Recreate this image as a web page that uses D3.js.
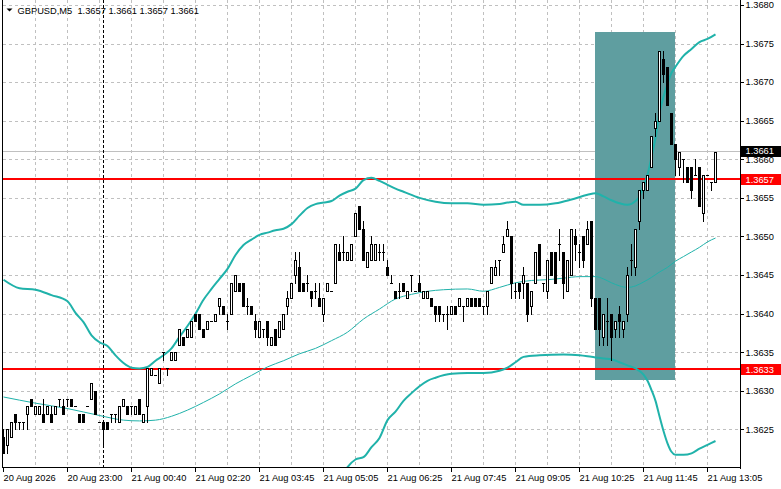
<!DOCTYPE html>
<html>
<head>
<meta charset="utf-8">
<script src="https://cdn.jsdelivr.net/npm/d3@7"></script>
<style>
  html, body { margin: 0; padding: 0; background: #fff; }
  svg { display: block; font-family: "Liberation Sans", Arial, sans-serif; }
</style>
</head>
<body>
<svg id="chart" width="781" height="489"></svg>
<script>
// GBPUSD M5 bars, one entry per bar (oldest first)
const open = [1.3624,1.3623,1.3624,1.3627,1.3626,1.3626,1.3627,1.3629,1.3627,1.3627,
  1.3627,1.3627,1.3627,1.3627,1.3629,1.3628,1.3629,1.3629,1.3628,1.3627,
  1.3627,1.3628,1.3629,1.3630,1.3626,1.3626,1.3626,1.3627,1.3627,1.3626,
  1.3628,1.3628,1.3628,1.3627,1.3629,1.3626,1.3628,1.3632,1.3632,1.3631,
  1.3635,1.3633,1.3634,1.3634,1.3636,1.3637,1.3637,1.3637,1.3640,1.3640,
  1.3638,1.3638,1.3639,1.3639,1.3641,1.3641,1.3639,1.3640,1.3643,1.3644,
  1.3644,1.3641,1.3641,1.3639,1.3637,1.3638,1.3639,1.3636,1.3638,1.3637,
  1.3638,1.3641,1.3642,1.3645,1.3646,1.3644,1.3644,1.3643,1.3643,1.3642,
  1.3640,1.3643,1.3643,1.3644,1.3648,1.3648,1.3647,1.3647,1.3650,1.3654,
  1.3651,1.3646,1.3647,1.3647,1.3648,1.3648,1.3646,1.3644,1.3643,1.3643,
  1.3644,1.3642,1.3645,1.3643,1.3644,1.3642,1.3642,1.3642,1.3641,1.3641,
  1.3640,1.3640,1.3640,1.3641,1.3641,1.3641,1.3641,1.3642,1.3642,1.3642,
  1.3641,1.3641,1.3644,1.3645,1.3647,1.3648,1.3650,1.3650,1.3643,1.3644,
  1.3644,1.3644,1.3641,1.3644,1.3649,1.3644,1.3643,1.3648,1.3648,1.3649,
  1.3648,1.3643,1.3645,1.3650,1.3648,1.3650,1.3649,1.3652,1.3642,1.3642,
  1.3637,1.3639,1.3640,1.3638,1.3640,1.3638,1.3640,1.3647,1.3646,1.3652,
  1.3656,1.3656,1.3659,1.3664,1.3665,1.3673,1.3672,1.3666,1.3662,1.3659,
  1.3660,1.3659,1.3659,1.3658,1.3659,1.3653,1.3658,1.3657,1.3657];
const high = [1.3625,1.3625,1.3626,1.3627,1.3626,1.3626,1.3628,1.3629,1.3628,1.3628,
  1.3629,1.3628,1.3628,1.3628,1.3629,1.3629,1.3629,1.3629,1.3628,1.3627,
  1.3627,1.3628,1.3631,1.3630,1.3626,1.3626,1.3626,1.3627,1.3627,1.3628,
  1.3629,1.3628,1.3628,1.3628,1.3629,1.3627,1.3633,1.3633,1.3632,1.3633,
  1.3635,1.3633,1.3635,1.3635,1.3638,1.3637,1.3638,1.3639,1.3640,1.3640,
  1.3638,1.3639,1.3639,1.3640,1.3642,1.3641,1.3640,1.3644,1.3645,1.3644,
  1.3644,1.3642,1.3641,1.3640,1.3639,1.3638,1.3639,1.3637,1.3638,1.3639,
  1.3640,1.3643,1.3644,1.3648,1.3648,1.3644,1.3645,1.3643,1.3644,1.3644,
  1.3642,1.3644,1.3643,1.3649,1.3649,1.3650,1.3648,1.3649,1.3653,1.3654,
  1.3652,1.3648,1.3650,1.3649,1.3649,1.3649,1.3647,1.3645,1.3643,1.3644,
  1.3644,1.3643,1.3645,1.3643,1.3645,1.3643,1.3643,1.3642,1.3641,1.3641,
  1.3640,1.3641,1.3641,1.3641,1.3642,1.3641,1.3642,1.3642,1.3642,1.3642,
  1.3641,1.3643,1.3646,1.3647,1.3647,1.3650,1.3652,1.3650,1.3644,1.3644,
  1.3646,1.3644,1.3643,1.3648,1.3649,1.3644,1.3647,1.3648,1.3648,1.3651,
  1.3648,1.3647,1.3651,1.3651,1.3649,1.3650,1.3652,1.3652,1.3642,1.3642,
  1.3640,1.3642,1.3640,1.3639,1.3641,1.3639,1.3646,1.3649,1.3651,1.3656,
  1.3657,1.3658,1.3663,1.3666,1.3674,1.3674,1.3672,1.3666,1.3662,1.3661,
  1.3660,1.3659,1.3659,1.3660,1.3659,1.3658,1.3658,1.3657,1.3661];
const low = [1.3622,1.3622,1.3624,1.3625,1.3625,1.3625,1.3625,1.3628,1.3627,1.3627,
  1.3626,1.3627,1.3626,1.3627,1.3628,1.3627,1.3628,1.3628,1.3628,1.3626,
  1.3626,1.3628,1.3629,1.3627,1.3626,1.3623,1.3625,1.3626,1.3626,1.3626,
  1.3628,1.3627,1.3627,1.3627,1.3627,1.3626,1.3626,1.3632,1.3632,1.3631,
  1.3634,1.3632,1.3634,1.3634,1.3636,1.3636,1.3637,1.3637,1.3639,1.3638,
  1.3637,1.3638,1.3639,1.3639,1.3640,1.3640,1.3638,1.3640,1.3643,1.3643,
  1.3641,1.3640,1.3640,1.3637,1.3637,1.3637,1.3636,1.3636,1.3636,1.3637,
  1.3638,1.3640,1.3642,1.3644,1.3643,1.3643,1.3643,1.3641,1.3642,1.3641,
  1.3639,1.3643,1.3643,1.3644,1.3647,1.3647,1.3647,1.3647,1.3650,1.3651,
  1.3647,1.3646,1.3647,1.3647,1.3647,1.3647,1.3645,1.3644,1.3642,1.3642,
  1.3643,1.3642,1.3643,1.3643,1.3643,1.3642,1.3642,1.3641,1.3639,1.3639,
  1.3639,1.3638,1.3640,1.3640,1.3641,1.3639,1.3641,1.3641,1.3641,1.3641,
  1.3640,1.3640,1.3644,1.3645,1.3645,1.3648,1.3650,1.3642,1.3642,1.3642,
  1.3642,1.3639,1.3640,1.3644,1.3645,1.3643,1.3642,1.3645,1.3644,1.3647,
  1.3642,1.3643,1.3645,1.3647,1.3646,1.3646,1.3649,1.3641,1.3638,1.3636,
  1.3636,1.3636,1.3634,1.3637,1.3637,1.3637,1.3639,1.3645,1.3645,1.3651,
  1.3655,1.3656,1.3659,1.3663,1.3665,1.3670,1.3667,1.3662,1.3658,1.3658,
  1.3657,1.3657,1.3655,1.3658,1.3654,1.3652,1.3658,1.3656,1.3657];
const close = [1.3622,1.3625,1.3626,1.3626,1.3626,1.3626,1.3628,1.3628,1.3628,1.3628,
  1.3626,1.3628,1.3626,1.3628,1.3629,1.3627,1.3629,1.3628,1.3628,1.3626,
  1.3626,1.3628,1.3631,1.3627,1.3626,1.3625,1.3625,1.3627,1.3627,1.3628,
  1.3629,1.3627,1.3628,1.3628,1.3627,1.3627,1.3633,1.3633,1.3632,1.3633,
  1.3635,1.3633,1.3635,1.3635,1.3638,1.3636,1.3638,1.3639,1.3639,1.3638,
  1.3637,1.3639,1.3639,1.3640,1.3642,1.3640,1.3639,1.3644,1.3645,1.3643,
  1.3641,1.3641,1.3640,1.3638,1.3639,1.3638,1.3637,1.3637,1.3636,1.3639,
  1.3640,1.3642,1.3644,1.3647,1.3643,1.3643,1.3644,1.3642,1.3643,1.3641,
  1.3642,1.3644,1.3643,1.3649,1.3647,1.3648,1.3648,1.3649,1.3653,1.3651,
  1.3647,1.3648,1.3649,1.3649,1.3648,1.3648,1.3645,1.3644,1.3642,1.3643,
  1.3643,1.3643,1.3645,1.3643,1.3643,1.3643,1.3643,1.3641,1.3640,1.3640,
  1.3640,1.3640,1.3641,1.3640,1.3642,1.3641,1.3642,1.3641,1.3641,1.3641,
  1.3641,1.3643,1.3646,1.3646,1.3647,1.3649,1.3651,1.3644,1.3643,1.3643,
  1.3645,1.3640,1.3643,1.3648,1.3645,1.3644,1.3647,1.3645,1.3644,1.3649,
  1.3644,1.3647,1.3651,1.3649,1.3648,1.3647,1.3651,1.3642,1.3638,1.3638,
  1.3640,1.3639,1.3637,1.3639,1.3639,1.3639,1.3645,1.3647,1.3651,1.3656,
  1.3657,1.3658,1.3663,1.3665,1.3674,1.3671,1.3667,1.3662,1.3660,1.3661,
  1.3660,1.3657,1.3656,1.3658,1.3654,1.3658,1.3658,1.3657,1.3661];

// Bollinger bands (bar index -> price)
const upperBar = [0,4,8,12,16,18,20,22,24,26,28,30,32,34,36,38,40,42,44,46,48,50,52,54,56,58,60,62,64,66,68,70,72,74,76,78,80,82,84,86,88,90,92,94,96,98,100,104,108,112,116,120,124,126,128,130,134,138,142,146,148,150,152,154,156,158,159,160,161,162,163,164,165,166,167,168,170,172,174,176,178];
const upperBand = [1.36444,1.36433,1.36431,1.36424,1.36416,1.36401,1.36389,1.36372,1.36363,1.36358,1.36346,1.36336,1.36330,1.36329,1.36331,1.36339,1.36346,1.36355,1.36370,1.36384,1.36400,1.36418,1.36432,1.36445,1.36458,1.36476,1.36489,1.36496,1.36502,1.36505,1.36508,1.36510,1.36516,1.36527,1.36537,1.36542,1.36544,1.36546,1.36553,1.36558,1.36562,1.36573,1.36576,1.36572,1.36567,1.36562,1.36558,1.36550,1.36545,1.36543,1.36543,1.36541,1.36542,1.36544,1.36545,1.36541,1.36541,1.36543,1.36548,1.36554,1.36556,1.36552,1.36547,1.36543,1.36541,1.36546,1.36552,1.36565,1.36580,1.36603,1.36628,1.36660,1.36681,1.36698,1.36712,1.36720,1.36734,1.36743,1.36752,1.36756,1.36762];
const midBar = [0,8,16,24,30,34,38,42,46,50,54,58,62,66,70,74,78,82,86,90,94,98,102,106,110,116,120,124,128,132,136,140,144,148,150,152,154,156,158,160,162,164,166,168,170,172,174,176,178];
const midBand = [1.36292,1.36284,1.36277,1.36268,1.36262,1.36261,1.36262,1.36267,1.36275,1.36285,1.36296,1.36309,1.36320,1.36331,1.36339,1.36348,1.36355,1.36365,1.36376,1.36393,1.36406,1.36419,1.36425,1.36429,1.36431,1.36432,1.36429,1.36434,1.36440,1.36443,1.36444,1.36446,1.36448,1.36448,1.36445,1.36440,1.36436,1.36434,1.36436,1.36441,1.36447,1.36454,1.36460,1.36468,1.36474,1.36480,1.36486,1.36493,1.36498];
const lowerBar = [84,86,88,90,92,94,96,98,100,102,104,106,108,112,116,120,124,126,128,130,134,140,144,147,150,152,154,156,158,160,161,162,163,164,165,166,167,168,170,172,174,176,178];
const lowerBand = [1.36184,1.36201,1.36211,1.36214,1.36227,1.36239,1.36262,1.36273,1.36287,1.36297,1.36306,1.36313,1.36317,1.36322,1.36323,1.36323,1.36326,1.36330,1.36337,1.36344,1.36346,1.36347,1.36346,1.36344,1.36342,1.36341,1.36337,1.36333,1.36329,1.36321,1.36313,1.36301,1.36287,1.36267,1.36248,1.36232,1.36221,1.36217,1.36217,1.36219,1.36225,1.36230,1.36235];

// axis labels
const timeLabels = ["20 Aug 2026","20 Aug 23:00","21 Aug 00:40","21 Aug 02:20","21 Aug 03:45","21 Aug 05:05",
  "21 Aug 06:25","21 Aug 07:45","21 Aug 09:05","21 Aug 10:25","21 Aug 11:45","21 Aug 13:05"];
const labelEvery = 16;   // bars between time labels
const gridEvery = 8;     // bars between vertical grid lines
const priceTicks = [1.3680,1.3675,1.3670,1.3665,1.3660,1.3655,1.3650,1.3645,1.3640,1.3635,1.3630,1.3625];

// objects on the chart
const levels = [1.36574, 1.36328];   // red horizontal lines
const bidPrice = 1.36611;
const separatorBar = 25;             // day separator
const zoneBars = [148, 168];
const zonePrices = [1.36765, 1.36314];
const title = "GBPUSD,M5  1.3657 1.3661 1.3657 1.3661";

const W = 781, H = 489;
const plot = {left: 3, right: 740, top: 0, bottom: 468};
const teal = "#20b2aa", gridCol = "#c0c0c0";
const fontSize = 9.3;

const svg = d3.select("#chart");
const nBars = open.length;

var x = d3.scaleLinear().domain([0, nBars - 1]).range([3.5, 3.5 + 4 * (nBars - 1)]);
var y = d3.scaleLinear().domain([1.3625, 1.3680]).range([429.4, 5]);
const px = v => Math.round(v) + 0.5;   // snap to pixel centre

svg.append("defs").append("clipPath").attr("id", "plotClip")
  .append("rect")
    .attr("x", plot.left).attr("y", plot.top)
    .attr("width", plot.right - plot.left).attr("height", plot.bottom - plot.top);

var g = svg.append("g").attr("clip-path", "url(#plotClip)");

  // grid
var grid = g.append("g").attr("shape-rendering", "crispEdges")
    .attr("stroke", gridCol).attr("stroke-dasharray", "3,3");
grid.selectAll("line.h").data(priceTicks).join("line")
    .attr("class", "h")
    .attr("x1", plot.left).attr("x2", plot.right)
    .attr("y1", d => px(y(d))).attr("y2", d => px(y(d)));
grid.selectAll("line.v").data(d3.range(gridEvery, nBars, gridEvery)).join("line")
    .attr("class", "v")
    .attr("x1", d => x(d)).attr("x2", d => x(d))
    .attr("y1", plot.top).attr("y2", plot.bottom);

  // bid line
g.append("line")
    .attr("shape-rendering", "crispEdges")
    .attr("x1", plot.left).attr("x2", plot.right)
    .attr("y1", px(y(bidPrice))).attr("y2", px(y(bidPrice)))
    .attr("stroke", gridCol);

  // day separator
g.append("line")
    .attr("shape-rendering", "crispEdges")
    .attr("x1", x(separatorBar)).attr("x2", x(separatorBar))
    .attr("y1", plot.top).attr("y2", plot.bottom)
    .attr("stroke", "#000").attr("stroke-dasharray", "3,2");

  // shaded zone
g.append("rect")
    .attr("shape-rendering", "crispEdges")
    .attr("x", x(zoneBars[0]) - 0.5)
    .attr("width", x(zoneBars[1]) - x(zoneBars[0]))
    .attr("y", Math.round(y(zonePrices[0])))
    .attr("height", Math.round(y(zonePrices[1])) - Math.round(y(zonePrices[0])))
    .attr("fill", "#5f9ea0");

  // red levels
g.selectAll("line.level").data(levels).join("line")
    .attr("class", "level")
    .attr("shape-rendering", "crispEdges")
    .attr("x1", plot.left).attr("x2", plot.right)
    .attr("y1", d => Math.round(y(d))).attr("y2", d => Math.round(y(d)))
    .attr("stroke", "#ff0000").attr("stroke-width", 2);

  // Bollinger bands
function bandLine(bars, vals, width) {
  var line = d3.line()
      .x(d => x(d[0]))
      .y(d => y(d[1]))
      .curve(d3.curveMonotoneX);
  g.append("path")
      .datum(d3.zip(bars, vals))
      .attr("d", line)
      .attr("fill", "none")
      .attr("stroke", teal)
      .attr("stroke-width", width);
}
bandLine(upperBar, upperBand, 2);
bandLine(midBar, midBand, 1);
bandLine(lowerBar, lowerBand, 2);

  // candles
var bars = d3.range(nBars).map(i => ({i: i, o: open[i], h: high[i], l: low[i], c: close[i]}));
var cg = g.append("g").attr("shape-rendering", "crispEdges");
cg.selectAll("line.wick").data(bars).join("line")
    .attr("class", "wick")
    .attr("x1", d => x(d.i)).attr("x2", d => x(d.i))
    .attr("y1", d => Math.round(y(d.h))).attr("y2", d => Math.round(y(d.l)) + 1)
    .attr("stroke", "#000");
cg.selectAll("rect.bear").data(bars.filter(d => d.c < d.o)).join("rect")
    .attr("class", "bear")
    .attr("x", d => x(d.i) - 1.5).attr("width", 3)
    .attr("y", d => Math.round(y(d.o)))
    .attr("height", d => Math.round(y(d.c)) - Math.round(y(d.o)) + 1)
    .attr("fill", "#000");
cg.selectAll("rect.bull").data(bars.filter(d => d.c > d.o)).join("rect")
    .attr("class", "bull")
    .attr("x", d => x(d.i) - 1).attr("width", 2)
    .attr("y", d => px(y(d.c)))
    .attr("height", d => Math.round(y(d.o)) - Math.round(y(d.c)))
    .attr("fill", "#fff").attr("stroke", "#000");
cg.selectAll("line.doji").data(bars.filter(d => d.c === d.o)).join("line")
    .attr("class", "doji")
    .attr("x1", d => x(d.i) - 1.5).attr("x2", d => x(d.i) + 1.5)
    .attr("y1", d => px(y(d.o))).attr("y2", d => px(y(d.o)))
    .attr("stroke", "#000");

  // frame
var frame = svg.append("g").attr("shape-rendering", "crispEdges").attr("stroke", "#000");
frame.append("line").attr("x1", 2.5).attr("x2", 2.5).attr("y1", 0).attr("y2", plot.bottom);
frame.append("line").attr("x1", plot.right + 0.5).attr("x2", plot.right + 0.5).attr("y1", 0).attr("y2", plot.bottom + 0.5);
frame.append("line").attr("x1", 2.5).attr("x2", plot.right + 0.5).attr("y1", plot.bottom - 0.5).attr("y2", plot.bottom - 0.5);

  // price axis
var pAxis = svg.append("g").attr("font-size", fontSize);
pAxis.selectAll("line").data(priceTicks).join("line")
    .attr("shape-rendering", "crispEdges")
    .attr("x1", plot.right + 1).attr("x2", plot.right + 4)
    .attr("y1", d => px(y(d))).attr("y2", d => px(y(d)))
    .attr("stroke", "#000");
pAxis.selectAll("text").data(priceTicks).join("text")
    .attr("x", 745.5).attr("y", d => y(d) + 3.3)
    .attr("fill", "#000")
    .text(d => d.toFixed(4));

  // time axis
var tIdx = timeLabels.map((t, k) => k * labelEvery);
var tAxis = svg.append("g").attr("font-size", fontSize);
tAxis.selectAll("line").data(tIdx).join("line")
    .attr("shape-rendering", "crispEdges")
    .attr("x1", d => x(d)).attr("x2", d => x(d))
    .attr("y1", plot.bottom).attr("y2", plot.bottom + 4)
    .attr("stroke", "#000");
tAxis.selectAll("text").data(tIdx).join("text")
    .attr("x", d => x(d)).attr("y", 480.6)
    .attr("fill", "#000")
    .text((d, k) => timeLabels[k]);

  // price tags on the axis
var tags = [{p: bidPrice, fill: "#000"}].concat(levels.map(p => ({p: p, fill: "#ff0000"})));
var tg = svg.append("g").attr("font-size", fontSize);
tg.selectAll("rect").data(tags).join("rect")
    .attr("shape-rendering", "crispEdges")
    .attr("x", plot.right + 1).attr("width", W - plot.right - 1)
    .attr("y", d => Math.round(y(d.p)) - 5).attr("height", 11)
    .attr("fill", d => d.fill);
tg.selectAll("text").data(tags).join("text")
    .attr("x", 745.5).attr("y", d => y(d.p) + 3.6)
    .attr("fill", "#fff")
    .text(d => d.p.toFixed(4));

  // title
svg.append("path")
    .attr("d", "M6.5,8.5 L12.5,8.5 L9.5,11.5 Z")
    .attr("fill", "#000");
svg.append("text")
    .attr("x", 17.5).attr("y", 13.8)
    .attr("font-size", fontSize)
    .attr("fill", "#000")
    .style("white-space", "pre")
    .text(title);
</script>
</body>
</html>
